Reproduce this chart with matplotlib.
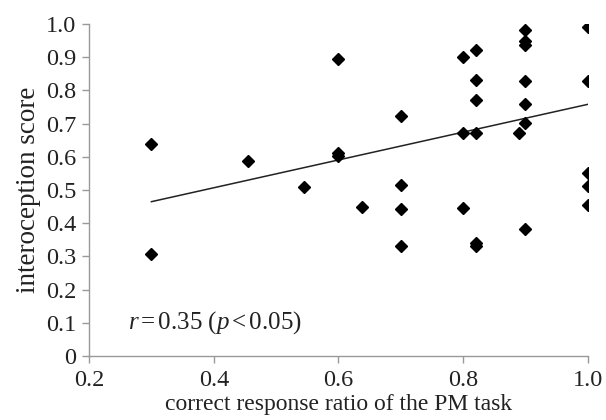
import numpy as np
import matplotlib
matplotlib.use('Agg')
import matplotlib.pyplot as plt

plt.rcParams['font.family'] = ['Liberation Serif', 'DejaVu Serif']
plt.rcParams['mathtext.fontset'] = 'custom'
plt.rcParams['mathtext.rm'] = 'Liberation Serif'
plt.rcParams['mathtext.it'] = 'Liberation Serif:italic'

# PM task correct response ratio vs interoception score
pm_ratio = [0.30, 0.30, 0.455, 0.545, 0.60, 0.60, 0.60, 0.637,
            0.70, 0.70, 0.70, 0.70, 0.80, 0.80, 0.80,
            0.82, 0.82, 0.82, 0.82, 0.82, 0.82, 0.89,
            0.90, 0.90, 0.90, 0.90, 0.90, 0.90, 0.90,
            1.00, 1.00, 1.00, 1.00, 1.00]
intero = [0.638, 0.309, 0.587, 0.510, 0.894, 0.612, 0.603, 0.450,
          0.722, 0.516, 0.443, 0.332, 0.899, 0.672, 0.446,
          0.921, 0.832, 0.771, 0.673, 0.340, 0.331, 0.673,
          0.983, 0.950, 0.936, 0.829, 0.758, 0.703, 0.384,
          0.990, 0.829, 0.552, 0.512, 0.455]

# regression line endpoints
trend_x = [0.30, 1.00]
trend_y = [0.465, 0.758]

fig = plt.figure(figsize=(6.06, 4.2), dpi=100)
ax = fig.add_axes([0.147, 0.152, 0.823, 0.791])

ax.plot(trend_x, trend_y, color='#222222', lw=1.1, zorder=2)
ax.plot(pm_ratio, intero, linestyle='none', marker='D', markersize=6.3,
        color='black', zorder=3)

ax.set_xlim(0.2, 1.0)
ax.set_ylim(0, 1.0)
ax.set_xticks([0.2, 0.4, 0.6, 0.8, 1.0])
ax.set_xticklabels(['0.2', '0.4', '0.6', '0.8', '1.0'])
ax.set_yticks(np.arange(0, 1.01, 0.1))
ax.set_yticklabels(['0'] + ['%.1f' % v for v in np.arange(0.1, 1.01, 0.1)])

for s in ['top', 'right']:
    ax.spines[s].set_visible(False)
for s in ['left', 'bottom']:
    ax.spines[s].set_color('#999999')
    ax.spines[s].set_linewidth(1.0)
ax.tick_params(colors='#999999', labelcolor='#222222', labelsize=17.5,
               length=5, width=1.0, direction='out')
ax.tick_params(axis='y', pad=4)
ax.tick_params(axis='x', pad=5)

ax.set_xlabel('correct response ratio of the PM task', fontsize=17,
              color='#222222', labelpad=2)
ax.set_ylabel('interoception score', fontsize=19.5, color='#222222',
              labelpad=4)

ax.text(0.262, 0.10, r'$r\,$=$\,$0.35 ($p\,$<$\,$0.05)', fontsize=18,
        color='#222222', va='center', ha='left')

fig.savefig('out.png', dpi=100)
